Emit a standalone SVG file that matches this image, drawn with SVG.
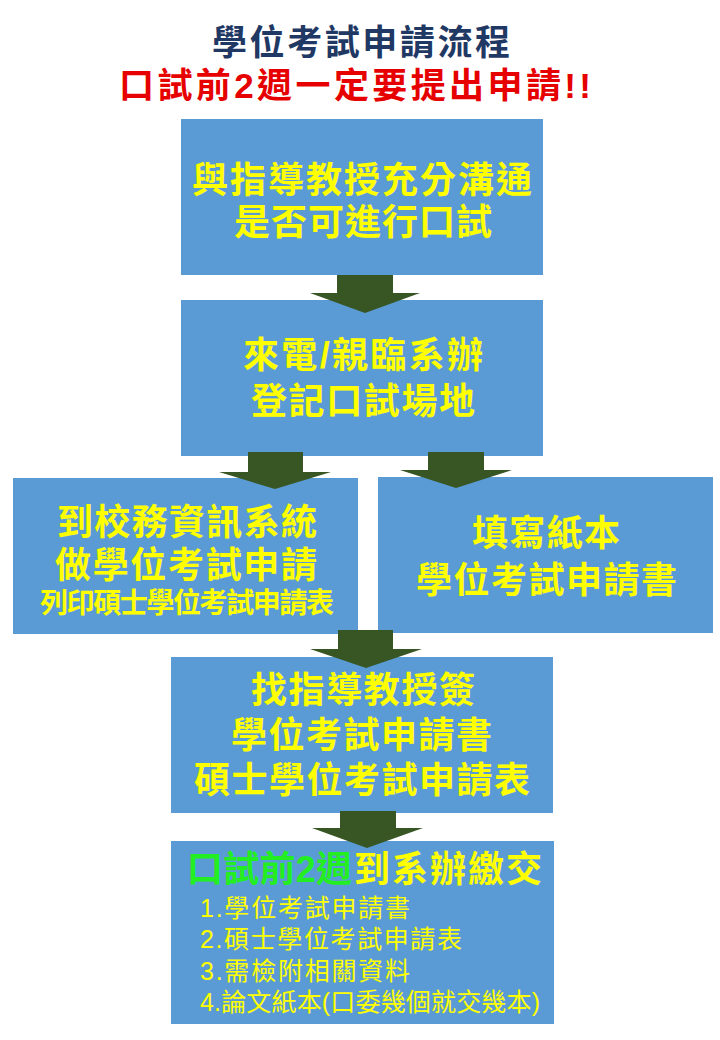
<svg xmlns="http://www.w3.org/2000/svg" width="720" height="1040" viewBox="0 0 720 1040">
<style>
.box{fill:#5b9bd5}
.arr{fill:#375623}
text{font-family:"Liberation Sans","Noto Sans CJK TC","Noto Sans CJK SC",sans-serif;font-weight:bold}
.t{fill:#ffff00;font-size:36px}
.s{fill:#ffff00;font-size:28px}
.l{fill:#ffff00;font-size:25px;font-weight:normal}
.g{fill:#22ee22}
</style>
<rect width="720" height="1040" fill="#ffffff"/>
<g id="title">
<text font-size="35" fill="#1f3864"><tspan x="212" y="55" textLength="298" lengthAdjust="spacing">學位考試申請流程</tspan><tspan x="119" y="98" fill="#e60000" textLength="472" lengthAdjust="spacing">口試前2週一定要提出申請!!</tspan></text>
</g>
<g id="node1">
<rect class="box" x="181" y="119" width="362" height="156"/>
<text class="t"><tspan x="192" y="193" textLength="340" lengthAdjust="spacing">與指導教授充分溝通</tspan><tspan x="234" y="235" textLength="258" lengthAdjust="spacing">是否可進行口試</tspan></text>
</g>
<g id="node2">
<rect class="box" x="181" y="300" width="362" height="156"/>
<text class="t"><tspan x="243" y="368" textLength="240" lengthAdjust="spacing">來電/親臨系辦</tspan><tspan x="251" y="414" textLength="224" lengthAdjust="spacing">登記口試場地</tspan></text>
</g>
<g id="node3">
<rect class="box" x="13" y="478" width="345" height="156"/>
<text class="t"><tspan x="57" y="535" textLength="260" lengthAdjust="spacing">到校務資訊系統</tspan><tspan x="55" y="578" textLength="262" lengthAdjust="spacing">做學位考試申請</tspan><tspan class="s" x="40" y="613" textLength="294" lengthAdjust="spacing">列印碩士學位考試申請表</tspan></text>
</g>
<g id="node4">
<rect class="box" x="378" y="477" width="335" height="156"/>
<text class="t"><tspan x="472" y="546" textLength="148" lengthAdjust="spacing">填寫紙本</tspan><tspan x="416" y="593" textLength="261" lengthAdjust="spacing">學位考試申請書</tspan></text>
</g>
<g id="node5">
<rect class="box" x="171" y="657" width="382" height="156"/>
<text class="t"><tspan x="251" y="703" textLength="224" lengthAdjust="spacing">找指導教授簽</tspan><tspan x="231" y="748" textLength="261" lengthAdjust="spacing">學位考試申請書</tspan><tspan x="194" y="793" textLength="336" lengthAdjust="spacing">碩士學位考試申請表</tspan></text>
</g>
<g id="node6">
<rect class="box" x="171" y="841" width="383" height="183"/>
<text class="t"><tspan class="g" x="187" y="882" textLength="165" lengthAdjust="spacing">口試前2週</tspan><tspan x="354" y="882" textLength="188" lengthAdjust="spacing">到系辦繳交</tspan></text>
<text class="l"><tspan x="200" y="917" textLength="210" lengthAdjust="spacing">1.學位考試申請書</tspan><tspan x="200" y="948" textLength="262" lengthAdjust="spacing">2.碩士學位考試申請表</tspan><tspan x="200" y="980" textLength="210" lengthAdjust="spacing">3.需檢附相關資料</tspan><tspan x="200" y="1011" textLength="340" lengthAdjust="spacing">4.論文紙本(口委幾個就交幾本)</tspan></text>
</g>
<g id="connectors">
<polygon class="arr" points="337,275 393,275 393,293 420,293 365,313 310,293 337,293"/>
<polygon class="arr" points="248,452 303,452 303,472 331,472 275,489 219,472 248,472"/>
<polygon class="arr" points="428,452 484,452 484,470 512,470 456,488 400,470 428,470"/>
<polygon class="arr" points="338,630 393,630 393,649 422,649 366,668 310,649 338,649"/>
<polygon class="arr" points="340,811 396,811 396,828 423,828 367,848 312,828 340,828"/>
</g>
</svg>
